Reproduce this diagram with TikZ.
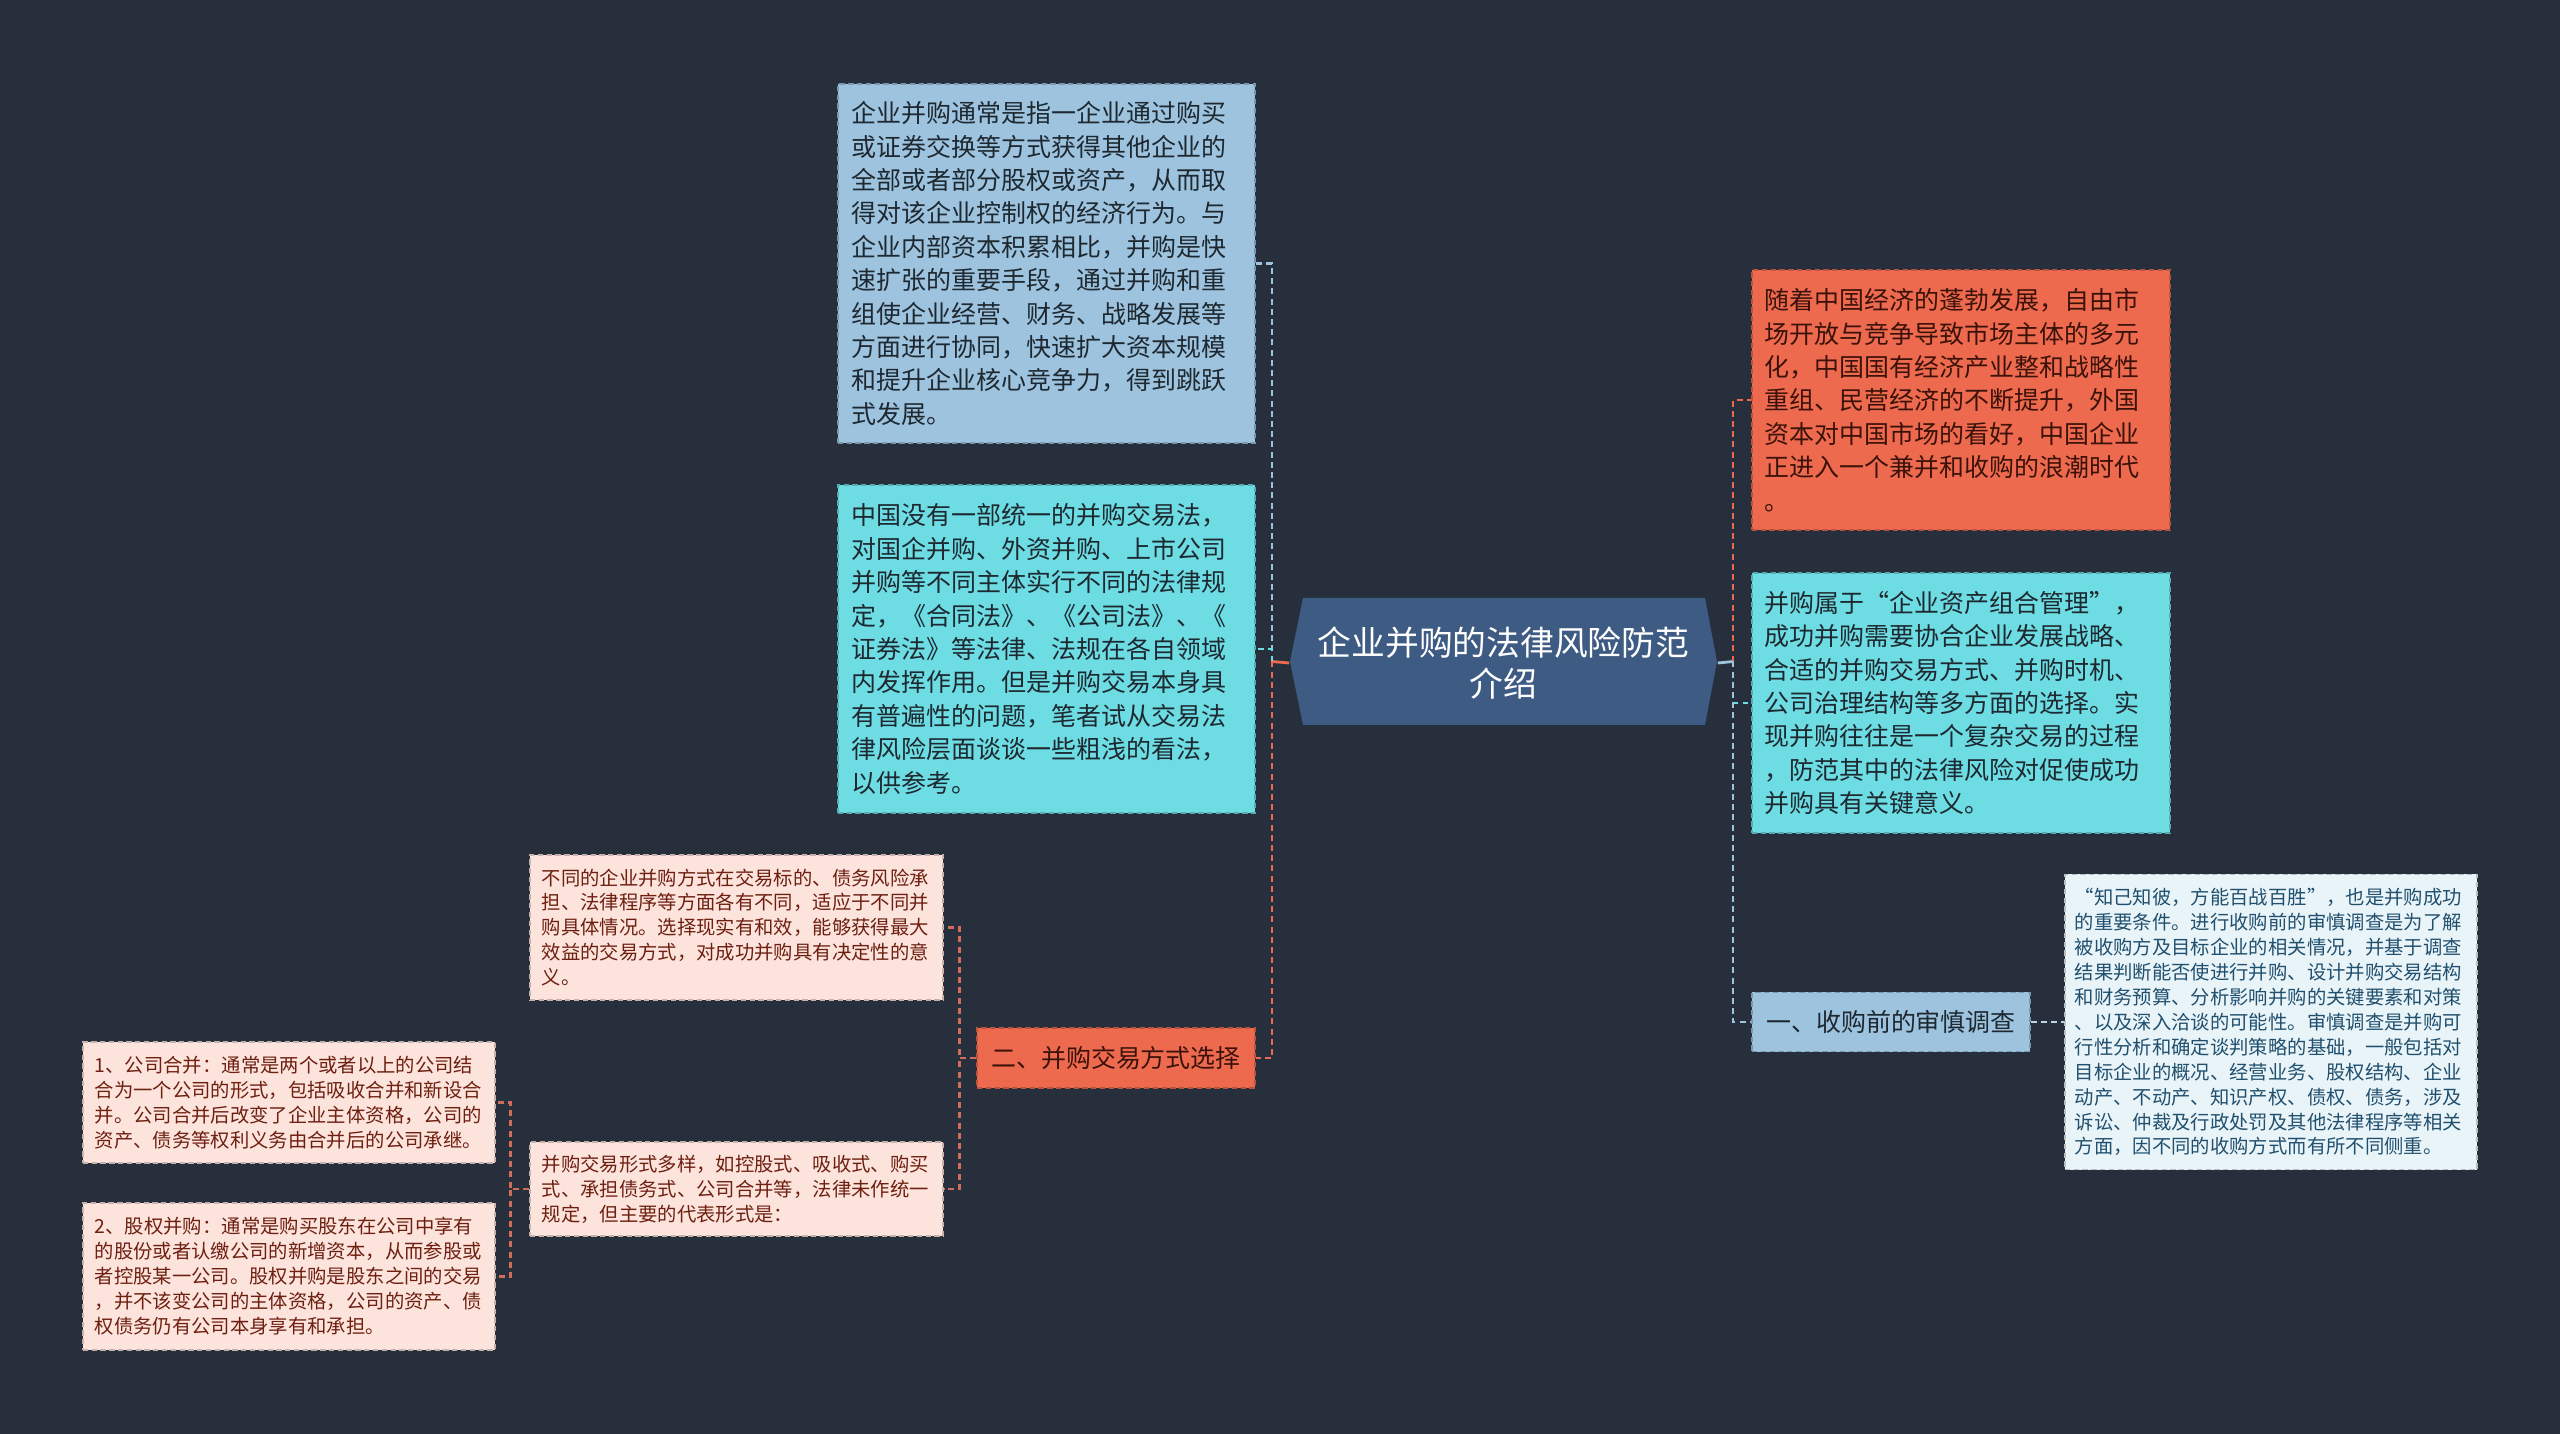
\documentclass[tikz,border=0pt]{standalone}
\usepackage{fontspec}
\newfontfamily\cjk{Noto Sans CJK SC}
\definecolor{bgnavy}{HTML}{272F3D}
\definecolor{rootblue}{HTML}{3E5B83}
\definecolor{cblue}{HTML}{9DC3DE}
\definecolor{ccyan}{HTML}{6DDCE3}
\definecolor{corange}{HTML}{EE6A4F}
\definecolor{cpale}{HTML}{E9F4F9}
\definecolor{cpink}{HTML}{FCE4DD}
\definecolor{lpink}{HTML}{CF6D5A}
\definecolor{lpale}{HTML}{BFD3E0}
\definecolor{tdark}{HTML}{1E2830}
\definecolor{tbrown}{HTML}{3B1209}
\definecolor{tnavy}{HTML}{21506E}
\definecolor{tred}{HTML}{6E1F10}
\begin{document}
\begin{tikzpicture}[x=0.01cm,y=-0.01cm,
	box/.style={draw=#1!78!black,fill=#1,dash pattern=on 1.5pt off 1pt,
		line width=0.4pt,inner sep=0pt,align=left},
	bigtext/.style={font=\cjk\fontsize{7.1}{9.5}\selectfont},
	smalltext/.style={font=\cjk\fontsize{5.5}{7.1}\selectfont},
	link/.style={line width=0.8pt,dash pattern=on 1.7pt off 1.2pt}]
	% background
	\fill[bgnavy] (0,0) rectangle (2560,1434);
	% centre
	\fill[rootblue] (1290,661.5) -- (1303,598) -- (1705,598) -- (1717,661.5)
	-- (1705,725) -- (1303,725) -- cycle;
	\node[font=\cjk\fontsize{9.6}{11.8}\selectfont,text=white,align=center,
	inner sep=0pt,minimum width=4.27cm,minimum height=1.27cm]
	(root) at (1503.5,663) {企业并购的法律风险防范\\介绍};
	% left side
	\node[box=cblue,bigtext,text=tdark,minimum width=4.17cm,minimum height=3.59cm,
	text width=3.89cm] (intro) at (1046.5,263.5)
	{企业并购通常是指一企业通过购买\\
	或证券交换等方式获得其他企业的\\
	全部或者部分股权或资产，从而取\\
	得对该企业控制权的经济行为。与\\
	企业内部资本积累相比，并购是快\\
	速扩张的重要手段，通过并购和重\\
	组使企业经营、财务、战略发展等\\
	方面进行协同，快速扩大资本规模\\
	和提升企业核心竞争力，得到跳跃\\
	式发展。};
	\node[box=ccyan,bigtext,text=tdark,minimum width=4.17cm,minimum height=3.28cm,
	text width=3.89cm] (nolaw) at (1046.5,649)
	{中国没有一部统一的并购交易法，\\
	对国企并购、外资并购、上市公司\\
	并购等不同主体实行不同的法律规\\
	定，《合同法》、《公司法》、《\\
	证券法》等法律、法规在各自领域\\
	内发挥作用。但是并购交易本身具\\
	有普遍性的问题，笔者试从交易法\\
	律风险层面谈谈一些粗浅的看法，\\
	以供参考。};
	\node[box=corange,bigtext,text=tbrown,align=center,minimum width=2.78cm,
	minimum height=0.6cm] (two) at (1116,1058) {二、并购交易方式选择};
	\node[box=cpink,smalltext,text=tred,minimum width=4.13cm,minimum height=1.45cm,
	text width=3.89cm] (diverse) at (736.5,927.5)
	{不同的企业并购方式在交易标的、债务风险承\\
	担、法律程序等方面各有不同，适应于不同并\\
	购具体情况。选择现实有和效，能够获得最大\\
	效益的交易方式，对成功并购具有决定性的意\\
	义。};
	\node[box=cpink,smalltext,text=tred,minimum width=4.13cm,minimum height=0.94cm,
	text width=3.89cm] (forms) at (736.5,1189)
	{并购交易形式多样，如控股式、吸收式、购买\\
	式、承担债务式、公司合并等，法律未作统一\\
	规定，但主要的代表形式是：};
	\node[box=cpink,smalltext,text=tred,minimum width=4.12cm,minimum height=1.21cm,
	text width=3.88cm] (merge) at (289,1102.5)
	{1、公司合并：通常是两个或者以上的公司结\\
	合为一个公司的形式，包括吸收合并和新设合\\
	并。公司合并后改变了企业主体资格，公司的\\
	资产、债务等权利义务由合并后的公司承继。};
	\node[box=cpink,smalltext,text=tred,minimum width=4.12cm,minimum height=1.47cm,
	text width=3.88cm] (equity) at (289,1276.5)
	{2、股权并购：通常是购买股东在公司中享有\\
	的股份或者认缴公司的新增资本，从而参股或\\
	者控股某一公司。股权并购是股东之间的交易\\
	，并不该变公司的主体资格，公司的资产、债\\
	权债务仍有公司本身享有和承担。};
	% right side
	\node[box=corange,bigtext,text=tbrown,minimum width=4.18cm,minimum height=2.6cm,
	text width=3.92cm] (boom) at (1961,400)
	{随着中国经济的蓬勃发展，自由市\\
	场开放与竞争导致市场主体的多元\\
	化，中国国有经济产业整和战略性\\
	重组、民营经济的不断提升，外国\\
	资本对中国市场的看好，中国企业\\
	正进入一个兼并和收购的浪潮时代\\
	。};
	\node[box=ccyan,bigtext,text=tdark,minimum width=4.18cm,minimum height=2.6cm,
	text width=3.92cm] (combo) at (1961,703)
	{并购属于“企业资产组合管理”，\\
	成功并购需要协合企业发展战略、\\
	合适的并购交易方式、并购时机、\\
	公司治理结构等多方面的选择。实\\
	现并购往往是一个复杂交易的过程\\
	，防范其中的法律风险对促使成功\\
	并购具有关键意义。};
	\node[box=cblue,bigtext,text=tdark,align=center,minimum width=2.78cm,
	minimum height=0.59cm] (one) at (1891,1022) {一、收购前的审慎调查};
	\node[box=cpale,smalltext,text=tnavy,minimum width=4.12cm,minimum height=2.95cm,
	text width=3.92cm] (diligence) at (2271,1022)
	{“知己知彼，方能百战百胜”，也是并购成功\\
	的重要条件。进行收购前的审慎调查是为了解\\
	被收购方及目标企业的相关情况，并基于调查\\
	结果判断能否使进行并购、设计并购交易结构\\
	和财务预算、分析影响并购的关键要素和对策\\
	、以及深入洽谈的可能性。审慎调查是并购可\\
	行性分析和确定谈判策略的基础，一般包括对\\
	目标企业的概况、经营业务、股权结构、企业\\
	动产、不动产、知识产权、债权、债务，涉及\\
	诉讼、仲裁及行政处罚及其他法律程序等相关\\
	方面，因不同的收购方式而有所不同侧重。};
	% connectors
	\coordinate (ljoin) at (1272,661.5);
	\coordinate (rjoin) at (1733,661.5);
	\draw[link,corange,solid] (root.west) -- (ljoin);
	\draw[link,cblue] (ljoin) |- (intro.east);
	\draw[link,ccyan] (ljoin) |- (nolaw.east);
	\draw[link,corange] (ljoin) |- (two.east);
	\draw[link,cblue,solid] (root.east) -- (rjoin);
	\draw[link,corange] (rjoin) |- (boom.west);
	\draw[link,ccyan] (rjoin) |- (combo.west);
	\draw[link,cblue] (rjoin) |- (one.west);
	\draw[link,lpale] (one.east) -- (diligence.west);
	\draw[link,lpink] (two.west) -- ++(-17,0) |- (diverse.east);
	\draw[link,lpink] (two.west) -- ++(-17,0) |- (forms.east);
	\draw[link,lpink] (forms.west) -- ++(-19,0) |- (merge.east);
	\draw[link,lpink] (forms.west) -- ++(-19,0) |- (equity.east);
\end{tikzpicture}
\end{document}
